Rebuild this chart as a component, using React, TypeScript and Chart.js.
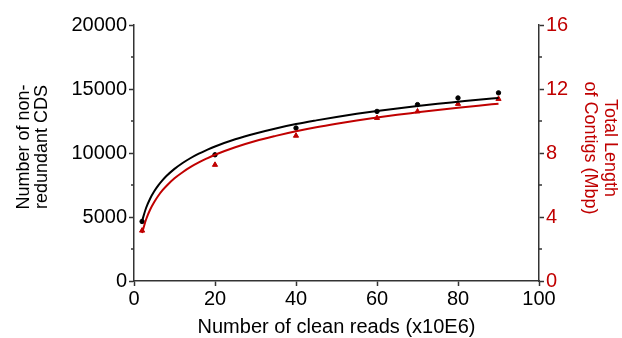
import React, { useEffect, useRef } from 'react';
import { Chart, registerables } from 'chart.js';

Chart.register(...registerables);

// Fitted curve samples (x = clean reads, x10E6)
const curveReads = [2, 3, 4, 5, 6, 7, 8, 10, 12, 14, 16, 18, 20, 25, 30, 35, 40, 45, 50, 55, 60, 65, 70, 75, 80, 85, 90];
const cdsCurve = [4700, 5720, 6450, 7010, 7470, 7860, 8200, 8760, 9220, 9610, 9950, 10240, 10510, 11070, 11530, 11920, 12260, 12550, 12820, 13060, 13280, 13480, 13670, 13840, 14000, 14160, 14300];
const contigCurve = [3.0, 3.86, 4.47, 4.94, 5.33, 5.66, 5.94, 6.42, 6.8, 7.13, 7.41, 7.66, 7.89, 8.36, 8.75, 9.07, 9.36, 9.61, 9.83, 10.03, 10.22, 10.39, 10.54, 10.69, 10.83, 10.96, 11.08];

// Measured samples
const sampleReads = [2, 20, 40, 60, 70, 80, 90];
const cdsPoints = [4650, 9860, 11950, 13250, 13780, 14300, 14700];
const contigPoints = [3.15, 7.26, 9.08, 10.19, 10.6, 11.07, 11.38];

// Axis ticks
const leftMinorTicks = [2500, 7500, 12500, 17500];
const rightMinorTicks = [2, 6, 10, 14];

const xTitle = 'Number of clean reads (x10E6)';
const leftTitle = ['Number of non-', 'redundant CDS'];
const rightTitle = ['Total Length', 'of Contigs (Mbp)'];

const RED = '#C00000';
const AXIS = '#333333';
const FONT = 'Arial, "Liberation Sans", sans-serif';

const zip = (xs: number[], ys: number[]) => xs.map((x, i) => ({ x, y: ys[i] }));

const decorPlugin = {
  id: 'decor',
  afterDraw(chart: any) {
    const { ctx, chartArea, scales } = chart;
    ctx.save();
    // minor ticks
    ctx.strokeStyle = AXIS;
    ctx.lineWidth = 1.5;
    leftMinorTicks.forEach((v) => {
      const py = scales.y.getPixelForValue(v);
      ctx.beginPath();
      ctx.moveTo(chartArea.left - 3, py);
      ctx.lineTo(chartArea.left, py);
      ctx.stroke();
    });
    rightMinorTicks.forEach((v) => {
      const py = scales.y2.getPixelForValue(v);
      ctx.beginPath();
      ctx.moveTo(chartArea.right, py);
      ctx.lineTo(chartArea.right + 3, py);
      ctx.stroke();
    });
    // titles
    ctx.textAlign = 'center';
    ctx.textBaseline = 'middle';
    ctx.fillStyle = '#000';
    ctx.font = `20px ${FONT}`;
    const cx = (chartArea.left + chartArea.right) / 2;
    ctx.fillText(xTitle, cx, 327);
    ctx.font = `18px ${FONT}`;
    ctx.save();
    ctx.translate(0, 147);
    ctx.rotate(-Math.PI / 2);
    ctx.fillText(leftTitle[0], 0, 24);
    ctx.fillText(leftTitle[1], 0, 42);
    ctx.restore();
    ctx.save();
    ctx.fillStyle = RED;
    ctx.translate(0, 148);
    ctx.rotate(Math.PI / 2);
    ctx.fillText(rightTitle[0], 0, -610);
    ctx.fillText(rightTitle[1], 0, -590);
    ctx.restore();
    ctx.restore();
  },
};

export default function App() {
  const ref = useRef<HTMLCanvasElement>(null);
  useEffect(() => {
    document.body.style.margin = '0';
    const tickFont = { size: 20, family: FONT };
    const plain = (v: any) => String(v);
    const chart = new Chart(ref.current as HTMLCanvasElement, {
      type: 'scatter',
      data: {
        datasets: [
          {
            type: 'line',
            data: zip(curveReads, cdsCurve),
            borderColor: '#000',
            borderWidth: 2,
            pointRadius: 0,
            cubicInterpolationMode: 'monotone',
            yAxisID: 'y',
          } as any,
          {
            type: 'line',
            data: zip(curveReads, contigCurve),
            borderColor: RED,
            borderWidth: 2,
            pointRadius: 0,
            cubicInterpolationMode: 'monotone',
            yAxisID: 'y2',
          } as any,
          {
            data: zip(sampleReads, cdsPoints),
            backgroundColor: '#000',
            borderColor: '#000',
            pointRadius: 2.2,
            yAxisID: 'y',
          },
          {
            data: zip(sampleReads, contigPoints),
            backgroundColor: RED,
            borderColor: RED,
            pointStyle: 'triangle',
            pointRadius: 3,
            yAxisID: 'y2',
          },
        ],
      },
      options: {
        animation: false,
        responsive: false,
        layout: { padding: { top: 25, left: 0, right: 0, bottom: 0 } },
        plugins: { legend: { display: false }, tooltip: { enabled: false } },
        scales: {
          x: {
            type: 'linear',
            min: 0,
            max: 100,
            ticks: { stepSize: 20, color: '#000', font: tickFont, padding: 1, maxRotation: 0, callback: plain },
            grid: { drawOnChartArea: false, tickLength: 5, tickColor: AXIS, tickWidth: 1.5 },
            border: { color: AXIS, width: 1.5 },
            afterFit: (s: any) => { s.height = 57; },
          },
          y: {
            type: 'linear',
            position: 'left',
            min: 0,
            max: 20000,
            ticks: { stepSize: 5000, color: '#000', font: tickFont, padding: 2, callback: plain },
            grid: { drawOnChartArea: false, tickLength: 5, tickColor: AXIS, tickWidth: 1.5 },
            border: { color: AXIS, width: 1.5 },
            afterFit: (s: any) => { s.width = 134; },
          },
          y2: {
            type: 'linear',
            position: 'right',
            min: 0,
            max: 16,
            ticks: { stepSize: 4, color: RED, font: tickFont, padding: 2, callback: plain },
            grid: { drawOnChartArea: false, tickLength: 5, tickColor: AXIS, tickWidth: 1.5 },
            border: { color: AXIS, width: 1.5 },
            afterFit: (s: any) => { s.width = 83; },
          },
        },
      },
      plugins: [decorPlugin],
    } as any);
    return () => chart.destroy();
  }, []);
  return (
    <div style={{ position: 'fixed', left: 0, top: 0, width: 622, height: 338, background: '#fff' }}>
      <canvas ref={ref} width={622} height={338} />
    </div>
  );
}
